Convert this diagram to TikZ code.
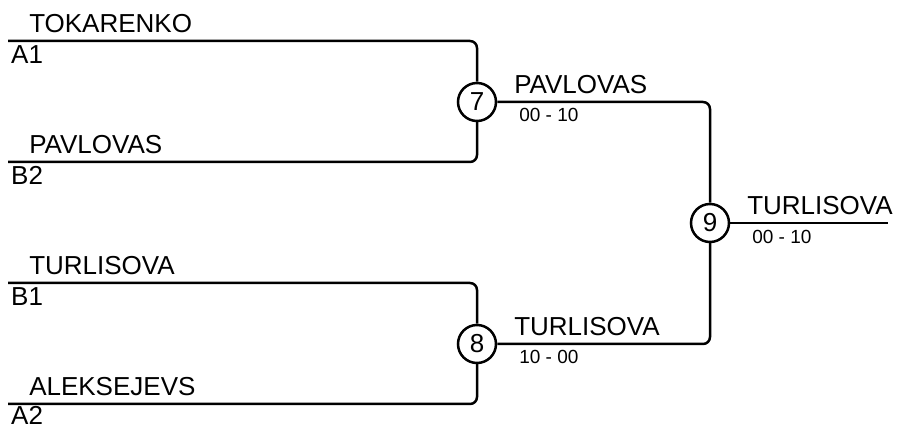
\documentclass[tikz,border=0pt]{standalone}
\usepackage{fontspec}
\setmainfont{Liberation Sans}
\usetikzlibrary{positioning}
\tikzset{every picture/.style={line width=2.5pt}}
\tikzset{
  match/.style={draw, circle, minimum size=38pt, inner sep=0pt, font=\fontsize{26}{26}\selectfont},
  player/.style={anchor=base west, inner sep=0pt, font=\fontsize{26}{26}\selectfont},
  score/.style={anchor=base west, inner sep=0pt, font=\fontsize{19}{19}\selectfont},
  bracket/.style={rounded corners=7pt}
}

\begin{document}
\begin{tikzpicture}[x=1pt,y=1pt,yscale=-1,xscale=1]
\useasboundingbox (0,0) rectangle (898,430);

%Line starts
\coordinate (a1) at (8,41);
\coordinate (b2) at (8,162);
\coordinate (b1) at (8,283);
\coordinate (a2) at (8,404);
\coordinate (fin) at (888,223);

%Shape: Circle
\node [match] (m7) at (477,102) {7};
%Shape: Circle
\node [match] (m8) at (477,344) {8};
%Shape: Circle
\node [match] (m9) at (710,223) {9};

%Bracket Lines
\draw [bracket] (a1) -| (m7);
\draw [bracket] (b2) -| (m7);
\draw [bracket] (b1) -| (m8);
\draw [bracket] (a2) -| (m8);
\draw [bracket] (m7) -| (m9);
\draw [bracket] (m8) -| (m9);
\draw (m9) -- (fin);

% Text Node
\node [player] (pa1) at (28,33) {TOKARENKO};
\node [player] (sa1) at (10,64) {A1};
% Text Node
\node [player] (pb2) at (28,154) {PAVLOVAS};
\node [player] (sb2) at (10,185) {B2};
% Text Node
\node [player] (pb1) at (28,275) {TURLISOVA};
\node [player] (sb1) at (10,306) {B1};
% Text Node
\node [player] (pa2) at (28,396) {ALEKSEJEVS};
\node [player] (sa2) at (10,425) {A2};
% Text Node
\node [player] (w7) at (513,94) {PAVLOVAS};
\node [score] (r7) at (518,122) {00 - 10};
% Text Node
\node [player] (w8) at (513,336) {TURLISOVA};
\node [score] (r8) at (518,364) {10 - 00};
% Text Node
\node [player] (w9) at (746,215) {TURLISOVA};
\node [score] (r9) at (751,244) {00 - 10};

\end{tikzpicture}
\end{document}
